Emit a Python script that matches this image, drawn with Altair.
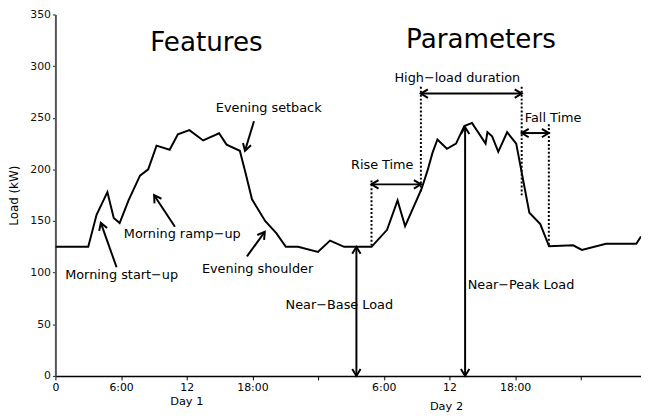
import math
import altair as alt
import pandas as pd

# ---------------- data ----------------
hours = [0, 3, 3.76, 4.75, 5.33, 5.87, 6.68, 7.73, 8.48, 9.24, 10.44, 11.19, 12.24,
         13.5, 14.95, 15.64, 16.85, 17.36, 17.96, 19.16, 20.2, 21.05, 22.17, 23.98,
         25.09, 26.38, 28.88, 30.3, 31.26, 31.95, 33.45, 34.0, 34.45, 34.9, 35.77,
         36.6, 37.36, 38.06, 39.3, 39.47, 39.9, 40.46, 41.27, 42.1, 43.3, 44.3, 45.1,
         47.3, 48.1, 50.3, 53.07, 53.5]
loads = [125, 125, 156, 178, 153, 148, 170, 194, 200, 223, 219, 234, 238,
         228, 235, 224, 218, 197, 171, 150, 138, 125, 125, 120,
         131, 125, 125, 141.5, 170, 145, 181, 199, 216, 229, 220,
         225, 242, 245, 225, 236, 232, 217, 236, 225, 158, 147, 125.5,
         126.5, 122, 128, 128, 135]

tick_values = [0, 6, 12, 18, 24, 30, 36, 42, 48]
tick_labels = ["0", "6:00", "12", "18:00", "", "6:00", "12", "18:00", ""]
y_ticks = [0, 50, 100, 150, 200, 250, 300, 350]

# annotation arrows: tail (x1,y1) -> tip (x2,y2), double-headed flag
arrow_x1 = [18.14, 5.59, 10.92, 17.50, 27.5, 37.43, 28.88, 33.39, 42.6]
arrow_y1 = [246.7, 105.2, 144.4, 115.7, 0, 0, 185.5, 273.4, 235.2]
arrow_x2 = [17.32, 4.15, 9.02, 19.13, 27.5, 37.43, 33.39, 42.6, 45.08]
arrow_y2 = [218.0, 148.2, 175.0, 139.6, 125, 241, 185.5, 273.4, 235.2]
arrow_double = [False, False, False, False, True, True, True, True, True]

# dotted guide lines
dot_x = [28.88, 33.39, 42.6, 45.08]
dot_y1 = [189.3, 280, 280, 243.8]
dot_y2 = [125, 176.9, 175, 125]

# text annotations
title_text = ["Features", "Parameters"]
title_x = [13.8, 38.88]
title_y = [322.3, 325.1]

note_text = ["Evening setback", "Morning start\u2212up", "Morning ramp\u2212up",
             "Evening shoulder", "Near\u2212Base Load", "Near\u2212Peak Load",
             "Rise Time", "High\u2212load duration", "Fall Time"]
note_x = [19.49, 6.05, 11.59, 18.47, 25.94, 42.54, 29.86, 36.72, 45.47]
note_y = [259.2, 97.5, 137.7, 103.3, 68.5, 87.6, 204.6, 288.8, 249.6]

day_text = ["Day 1", "Day 2"]
day_x = [12, 35.73]
day_y = [-25, -30.5]

# ---------------- layout ----------------
W, H = 593, 366
X_MAX, Y_MAX = 53.5, 350
FONT = "DejaVu Sans"
px_h = W / X_MAX
px_k = H / Y_MAX

x_scale = alt.Scale(domain=[0, X_MAX], nice=False, zero=False)
y_scale = alt.Scale(domain=[0, Y_MAX], nice=False)

expr = "''"
for v, l in reversed(list(zip(tick_values, tick_labels))):
    expr = f"datum.value == {v} ? '{l}' : ({expr})"

x_axis = alt.Axis(values=tick_values, labelExpr=expr, title=None, grid=False,
                  domainColor="black", domainWidth=1.5, tickColor="black",
                  tickSize=4, labelFont=FONT, labelFontSize=11, labelColor="black",
                  labelPadding=2, labelFlush=False)
y_axis = alt.Axis(values=y_ticks, title="Load (kW)", grid=False,
                  domainColor="#555", domainWidth=2, tickColor="#222",
                  tickSize=3, labelFont=FONT, labelFontSize=11, labelColor="#111",
                  labelPadding=2, titleFont=FONT, titleFontSize=12,
                  titleFontWeight="normal", titleColor="black", titlePadding=9)


def X(field):
    return alt.X(field, type="quantitative", scale=x_scale, axis=x_axis)


def Y(field):
    return alt.Y(field, type="quantitative", scale=y_scale, axis=y_axis)


line_df = pd.DataFrame({"x": hours, "y": loads})
line = alt.Chart(line_df).mark_line(color="black", strokeWidth=2, clip=True).encode(
    x=X("x"), y=Y("y"))

arrows_df = pd.DataFrame({"x": arrow_x1, "y": arrow_y1, "x2": arrow_x2, "y2": arrow_y2})
shafts = alt.Chart(arrows_df).mark_rule(color="black", strokeWidth=2).encode(
    x=X("x"), y=Y("y"), x2="x2:Q", y2="y2:Q")

hx, hy, ha = [], [], []
for x1, y1, x2, y2, d in zip(arrow_x1, arrow_y1, arrow_x2, arrow_y2, arrow_double):
    dx = (x2 - x1) * px_h
    dy = -(y2 - y1) * px_k
    ang = math.degrees(math.atan2(dx, -dy)) % 360
    hx.append(x2); hy.append(y2); ha.append(ang)
    if d:
        hx.append(x1); hy.append(y1); ha.append((ang + 180) % 360)
heads_df = pd.DataFrame({"x": hx, "y": hy, "angle": ha})
heads = alt.Chart(heads_df).mark_point(
    shape="M-0.6,1L0,0L0.6,1", filled=False, stroke="black", strokeWidth=2,
    size=200, opacity=1).encode(
    x=X("x"), y=Y("y"), angle=alt.Angle("angle:Q", scale=None))

dots_df = pd.DataFrame({"x": dot_x, "y": dot_y1, "y2": dot_y2})
dots = alt.Chart(dots_df).mark_rule(color="black", strokeWidth=2, strokeDash=[2, 2]).encode(
    x=X("x"), y=Y("y"), y2="y2:Q")


def text_layer(texts, xs, ys, size):
    df = pd.DataFrame({"t": texts, "x": xs, "y": ys})
    return alt.Chart(df).mark_text(font=FONT, fontSize=size, color="black",
                                   baseline="middle", align="center").encode(
        x=X("x"), y=Y("y"), text="t:N")


titles = text_layer(title_text, title_x, title_y, 26.5)
notes = text_layer(note_text, note_x, note_y, 13)
days = text_layer(day_text, day_x, day_y, 11.5)

chart = alt.layer(line, dots, shafts, heads, titles, notes, days).properties(
    width=W, height=H,
    background="white",
    autosize=alt.AutoSizeParams(type="none"),
    padding={"left": 48, "top": 4, "right": 0, "bottom": 38},
).configure_view(stroke=None)

chart.save("out.html", embed_options={"renderer": "svg", "actions": False})
